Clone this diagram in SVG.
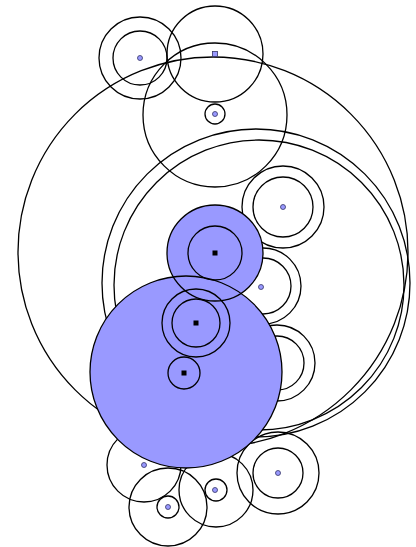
<svg xmlns="http://www.w3.org/2000/svg" width="416" height="547" viewBox="0 0 416 547">
<style>
.c{fill:none;stroke:#000;stroke-width:1.3}
.b{fill:#9999ff;stroke:none}
.d{fill:#9999ff;stroke:#333366;stroke-width:0.8}
.k{fill:#000}
</style>
<rect width="416" height="547" fill="#fff"/>
<g id="connectors"></g>
<g id="outer">
<circle class="c" cx="213" cy="252" r="195"/>
<circle class="c" cx="256" cy="283" r="154"/>
<circle class="c" cx="259" cy="285" r="145"/>
</g>
<g id="top">
<circle class="c" cx="215" cy="115" r="72"/>
<circle class="c" cx="215" cy="54" r="48"/>
<circle class="c" cx="140" cy="58" r="41"/>
<circle class="c" cx="140" cy="58" r="27"/>
<circle class="c" cx="215" cy="114" r="10"/>
<circle class="d" cx="140" cy="58" r="2.5"/>
<rect class="d" x="212.5" y="51.5" width="5" height="5"/>
<circle class="d" cx="215" cy="114" r="2.5"/>
</g>
<g id="right">
<circle class="c" cx="283" cy="207" r="41"/>
<circle class="c" cx="283" cy="207" r="30"/>
<circle class="d" cx="283" cy="207" r="2.5"/>
<circle class="c" cx="263" cy="286" r="38"/>
<circle class="c" cx="263" cy="286" r="28"/>
<circle class="c" cx="277" cy="363" r="38"/>
<circle class="c" cx="277" cy="363" r="27"/>
</g>
<g id="bottom">
<circle class="c" cx="144" cy="465" r="37"/>
<circle class="c" cx="168" cy="507" r="39"/>
<circle class="c" cx="168" cy="507" r="11"/>
<circle class="c" cx="216" cy="490" r="37"/>
<circle class="c" cx="216" cy="490" r="11"/>
<circle class="c" cx="278" cy="473" r="41"/>
<circle class="c" cx="278" cy="473" r="25"/>
</g>
<g id="blue">
<circle class="b" cx="186" cy="372" r="96"/>
<circle class="b" cx="215" cy="253" r="48"/>
<circle class="c" cx="186" cy="372" r="96"/>
<circle class="c" cx="215" cy="253" r="48"/>
<circle class="c" cx="215" cy="253" r="27"/>
<circle class="c" cx="196" cy="323" r="34"/>
<circle class="c" cx="196" cy="323" r="24"/>
<circle class="c" cx="184" cy="373" r="16"/>
<rect class="k" x="212.5" y="250.5" width="5" height="5"/>
<rect class="k" x="193.5" y="320.5" width="5" height="5"/>
<rect class="k" x="181.5" y="370.5" width="5" height="5"/>
</g>
<g id="dots">
<circle class="d" cx="261" cy="287" r="2.5"/>
<circle class="d" cx="144" cy="465" r="2.5"/>
<circle class="d" cx="168" cy="507" r="2.5"/>
<circle class="d" cx="215" cy="490" r="2.5"/>
<circle class="d" cx="278" cy="473" r="2.5"/>
</g>
</svg>
